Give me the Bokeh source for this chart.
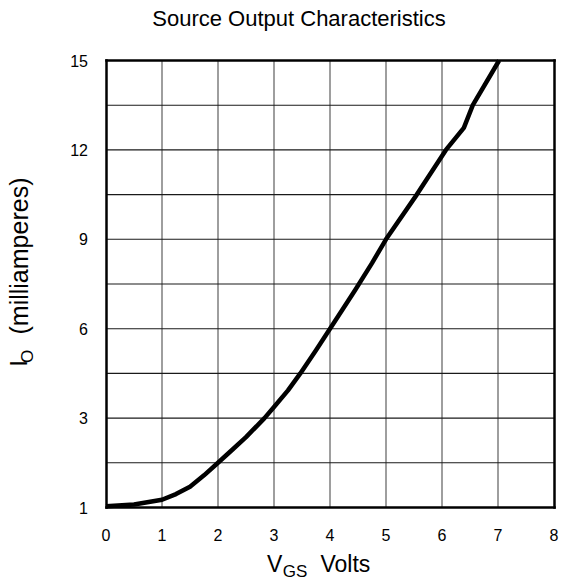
from bokeh.plotting import figure
from bokeh.models import FixedTicker, Label, Range1d, LinearAxis
from bokeh.embed import file_html
from bokeh.resources import INLINE
import math

# data
vgs_volts = [0.0, 0.5, 1.0, 1.25, 1.5, 1.75, 2.0, 2.25, 2.5, 2.83, 3.0, 3.25, 3.47, 3.75,
             4.0, 4.25, 4.45, 4.75, 5.0, 5.55, 6.07, 6.39, 6.55, 7.02]
io_ma = [0.04, 0.1, 0.26, 0.45, 0.70, 1.08, 1.5, 1.93, 2.36, 3.0, 3.37, 3.93, 4.5, 5.28,
         6.0, 6.72, 7.3, 8.2, 9.0, 10.5, 12.0, 12.74, 13.5, 15.0]

x_ticks = [0, 1, 2, 3, 4, 5, 6, 7, 8]
y_ticks = [0, 3, 6, 9, 12, 15]
y_tick_labels = ["1", "3", "6", "9", "12", "15"]
x_grid_lines = [1, 2, 3, 4, 5, 6, 7]
y_grid_lines = [1.5, 3, 4.5, 6, 7.5, 9, 10.5, 12, 13.5]
x_min, x_max = 0, 8
y_min, y_max = 0, 15

FONT = "Liberation Sans"

# layout (pixels on the canvas)
W, H = 560, 580
PLOT_LEFT, PLOT_RIGHT, PLOT_TOP, PLOT_BOTTOM = 105.5, 553.5, 60.0, 507.0
kx = (PLOT_RIGHT - PLOT_LEFT) / (x_max - x_min)
ky = (PLOT_BOTTOM - PLOT_TOP) / (y_max - y_min)

p = figure(width=W, height=H,
           x_range=Range1d(x_min - PLOT_LEFT / kx, x_max + (W - PLOT_RIGHT) / kx),
           y_range=Range1d(y_min - (H - PLOT_BOTTOM) / ky, y_max + PLOT_TOP / ky),
           x_axis_location=None, y_axis_location=None,
           output_backend="svg", toolbar_location=None,
           min_border_left=0, min_border_right=0, min_border_top=0, min_border_bottom=0)
p.background_fill_color = "white"
p.border_fill_color = "white"
p.outline_line_color = None
p.grid.visible = False

# grid lines
p.segment(x0=x_grid_lines, y0=[y_min] * len(x_grid_lines), x1=x_grid_lines, y1=[y_max] * len(x_grid_lines),
          line_color="#6a6a6a", line_width=1.3)
p.segment(x0=[x_min] * len(y_grid_lines), y0=y_grid_lines, x1=[x_max] * len(y_grid_lines), y1=y_grid_lines,
          line_color="#1a1a1a", line_width=1.1)

# curve
p.line(vgs_volts, io_ma, line_width=4.5, line_color="black", line_join="round", line_cap="butt")

# axes (also forming the plot border)
xaxis = LinearAxis(fixed_location=y_min, ticker=FixedTicker(ticks=x_ticks), bounds=(x_min, x_max))
yaxis = LinearAxis(fixed_location=x_min, ticker=FixedTicker(ticks=y_ticks), bounds=(y_min, y_max),
                   major_label_overrides=dict(zip(y_ticks, y_tick_labels)))
top_axis = LinearAxis(fixed_location=y_max, ticker=FixedTicker(ticks=[]), bounds=(x_min, x_max))
right_axis = LinearAxis(fixed_location=x_max, ticker=FixedTicker(ticks=[]), bounds=(y_min, y_max))
for ax in (xaxis, yaxis, top_axis, right_axis):
    ax.axis_line_color = "black"
    ax.axis_line_width = 2.5
    ax.axis_line_cap = "square"
    ax.major_tick_line_color = None
    ax.minor_tick_line_color = None
    ax.major_tick_out = 0
    ax.major_tick_in = 0
    ax.major_label_text_font = FONT
    ax.major_label_text_font_size = "16px"
    ax.major_label_text_color = "black"
xaxis.major_label_standoff = 21
yaxis.major_label_standoff = 18
p.add_layout(xaxis, "below")
p.add_layout(yaxis, "left")
p.add_layout(top_axis, "above")
p.add_layout(right_axis, "right")


def lab(text, px, py, size, angle=0.0, align="left"):
    p.add_layout(Label(x=px, y=H - py, x_units="screen", y_units="screen", text=text,
                       text_font=FONT, text_font_size=size, text_color="black",
                       text_align=align, text_baseline="middle", angle=angle))


# title
lab("Source Output Characteristics", 298.5, 18.4, "22px", align="center")
# x axis label: V_GS  Volts
lab("V", 266.5, 563.0, "23px")
lab("GS", 282.2, 571.1, "17px")
lab("Volts", 320, 563.0, "23px")
# y axis label: I_O  (milliamperes)
lab("I", 18.0, 366, "23px", angle=math.pi / 2)
lab("O", 27.1, 362.5, "17px", angle=math.pi / 2)
lab("(milliamperes)", 18.3, 334, "25px", angle=math.pi / 2)

open("out.html", "w").write(file_html(p, INLINE))
